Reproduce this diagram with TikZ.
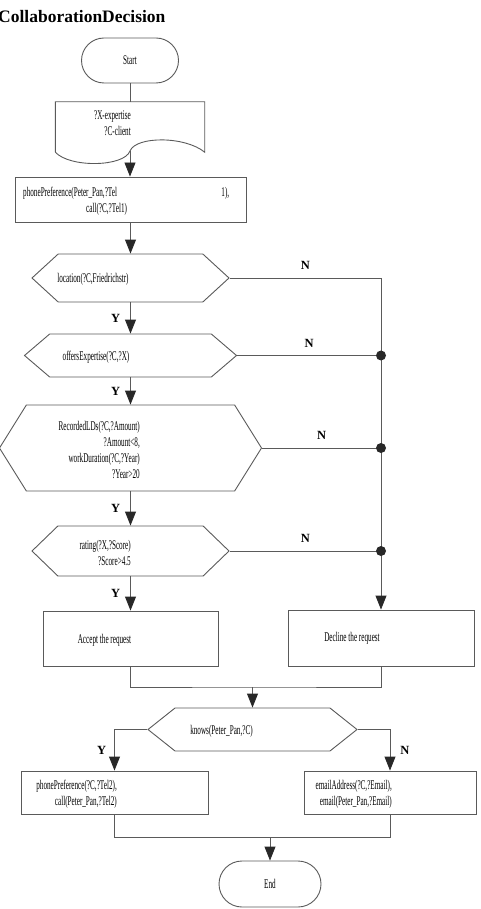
\documentclass[tikz,border=0pt]{standalone}
\usepackage{fontspec}
\setmainfont{Liberation Serif}
\newfontfamily\narrowfont[FakeStretch=0.54]{Liberation Serif}
\usetikzlibrary{arrows.meta,shapes.misc,shapes.symbols}
\definecolor{lineGray}{RGB}{90,90,90}
\definecolor{tipDark}{RGB}{40,40,40}

\begin{document}
\begin{tikzpicture}[x=1pt,y=-1pt,
  wire/.style={draw=lineGray,line width=0.9pt},
  flow/.style={wire,-{Triangle[length=14pt,width=11pt,color=tipDark]}},
  box/.style={draw=lineGray,line width=0.9pt,inner sep=0pt},
  lbl/.style={font=\narrowfont\fontsize{13.3}{16}\selectfont,inner sep=0pt},
  term/.style={box,lbl,rounded rectangle,minimum width=97,minimum height=45},
  cond/.style={box,signal,signal to=west and east},
  yn/.style={font=\bfseries\fontsize{12.5}{14}\selectfont,inner sep=0pt},
  joint/.style={circle,fill=tipDark,inner sep=0pt,minimum size=10pt}]
\useasboundingbox (0,0) rectangle (480,909);
\node[anchor=base west,inner sep=0pt,font=\bfseries\fontsize{17.5}{20}\selectfont] (title) at (-2,23) {CollaborationDecision};

% start and input
\node[term] (start) at (130,60.5) {Start};
\node[minimum width=149,minimum height=50,inner sep=0pt] (input) at (130,127) {};
\draw[wire] (input.south west) -- (input.north west) -- (input.north east) -- (input.south east)
  .. controls (185,136) and (136,136) .. (130,151) coordinate (inputEnd)
  .. controls (124,167) and (70,168) .. (input.south west);
\node[lbl,align=right,anchor=east] (inputText) at (131,123) {?X-expertise\\?C-client};

\node[box,minimum width=231,minimum height=45] (pref) at (130.5,199.5) {};
\node[lbl,text width=206,align=left,anchor=west] (prefText) at (23,201.5) {phonePreference(Peter\_Pan,?Tel\hfill 1),\\\hspace*{63pt}call(?C,?Tel1)};

% conditions
\node[cond,minimum width=197,minimum height=48,signal pointer angle=85] (loc) at (130.5,278) {};
\node[lbl] (locText) at (93,279) {location(?C,Friedrichstr)};
\node[cond,minimum width=212,minimum height=43,signal pointer angle=81] (offers) at (130.5,355.5) {};
\node[lbl] (offersText) at (96,357) {offersExpertise(?C,?X)};
\node[cond,minimum width=262,minimum height=86,signal pointer angle=116] (record) at (130.5,448) {};
\node[lbl,align=right,anchor=east] (recordText) at (140,449.5) {RecordedLDs(?C,?Amount)\\?Amount<8,\\workDuration(?C,?Year)\\?Year>20};
\node[cond,minimum width=197,minimum height=50,signal pointer angle=88] (rating) at (130.5,551) {};
\node[lbl,align=right,anchor=east] (ratingText) at (131,552.5) {rating(?X,?Score)\\?Score>4.5};

% outcomes
\node[box,minimum width=175,minimum height=55] (accept) at (130.5,638.5) {};
\node[lbl] (acceptText) at (104.5,640) {Accept the request};
\node[box,minimum width=186,minimum height=56] (decline) at (381,638) {};
\node[lbl] (declineText) at (352,638) {Decline the request};

\node[cond,minimum width=209,minimum height=43,signal pointer angle=77] (knows) at (252.5,729.5) {};
\node[lbl] (knowsText) at (221.5,731) {knows(Peter\_Pan,?C)};
\node[box,minimum width=187,minimum height=43] (callBox) at (114.5,792.5) {};
\node[lbl,align=right,anchor=east] (callText) at (117,794.5) {phonePreference(?C,?Tel2),\\call(Peter\_Pan,?Tel2)};
\node[box,minimum width=172,minimum height=43] (mailBox) at (390,792.5) {};
\node[lbl,align=right,anchor=east] (mailText) at (392,794.5) {emailAddress(?C,?Email),\\email(Peter\_Pan,?Email)};
\node[term,minimum width=102,minimum height=46] (end) at (270,884) {End};

% connectors
\draw[wire] (start.south) -- (input.north);
\draw[flow] (inputEnd) -- (inputEnd |- pref.north);
\draw[flow] (pref.south) -- (loc.north);
\draw[flow] (loc.south) -- node[yn,left=10pt]{Y} (offers.north);
\draw[flow] (offers.south) -- node[yn,left=10pt]{Y} (record.north);
\draw[flow] (record.south) -- node[yn,left=10pt]{Y} (rating.north);
\draw[flow] (rating.south) -- node[yn,left=10pt]{Y} (accept.north);

\draw[flow] (loc.east) -| node[yn,pos=0.25,above=8pt]{N} (decline.north);
\draw[wire] (offers.east) -- node[yn,above=8pt]{N} (offers.east -| decline.north) node[joint] (j1) {};
\draw[wire] (record.east) -- node[yn,above=8pt]{N} (record.east -| decline.north) node[joint] (j2) {};
\draw[wire] (rating.east) -- node[yn,above=8pt]{N} (rating.east -| decline.north) node[joint] (j3) {};

\coordinate (join1) at (252.5,687);
\draw[wire] (accept.south) |- (join1) -| (decline.south);
\draw[flow] (join1) -- (knows.north);
\draw[flow] (knows.west) -| node[yn,pos=0.75,left=8pt]{Y} (callBox.north);
\draw[flow] (knows.east) -| node[yn,pos=0.75,right=10pt]{N} (mailBox.north);
\coordinate (join2) at (270,837);
\draw[wire] (callBox.south) |- (join2) -| (mailBox.south);
\draw[flow] (join2) -- (end.north);
\end{tikzpicture}
\end{document}
